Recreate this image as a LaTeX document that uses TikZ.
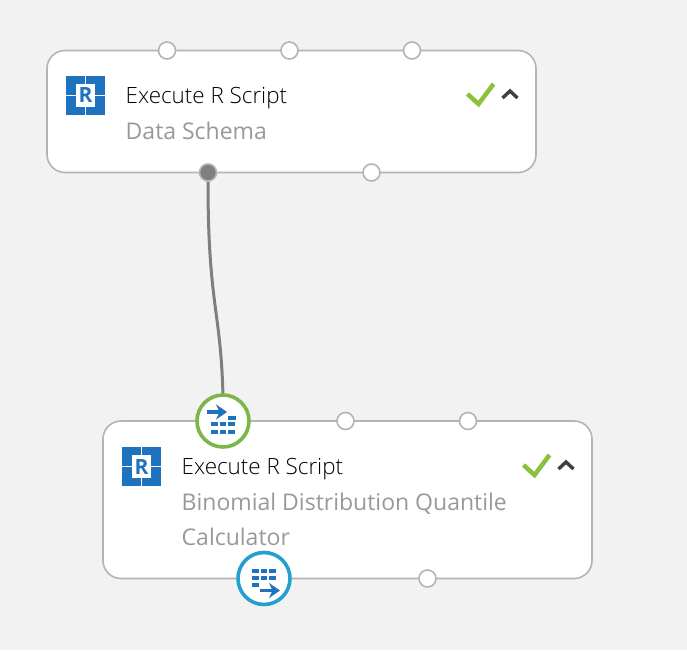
\documentclass[tikz,border=0pt]{standalone}
\usepackage{fontspec}
\setmainfont{Open Sans}
\newfontfamily\titlefont[UprightFont=* Light]{Open Sans}
\usepackage{tikz}
\usetikzlibrary{positioning}
\usetikzlibrary{arrows.meta}

\definecolor{canvasgray}{HTML}{F2F2F2}
\definecolor{moduleline}{HTML}{B4B4B4}
\definecolor{subtitlegray}{HTML}{999999}
\definecolor{iconblue}{HTML}{1F73BE}
\definecolor{tickgreen}{HTML}{8AC23C}
\definecolor{portgreen}{HTML}{7AB648}
\definecolor{portblue}{HTML}{259ED0}
\definecolor{linkgray}{HTML}{7F7F7F}

\tikzset{
    modulebox/.style={draw=moduleline, line width=1.6pt, fill=white, rounded corners=18pt},
    titletext/.style={font=\titlefont\fontsize{22.4}{35}\selectfont, text=black, inner sep=0pt, anchor=base west},
    subtitletext/.style={font=\fontsize{23}{35}\selectfont, text=subtitlegray, inner sep=0pt, anchor=north west, align=left},
    freeport/.style={circle, draw=moduleline, line width=1.6pt, fill=white, minimum size=17pt, inner sep=0pt},
    usedport/.style={circle, draw=moduleline, line width=1.6pt, fill=linkgray, minimum size=17pt, inner sep=0pt},
    inport/.style={circle, draw=portgreen, line width=3.6pt, fill=white, minimum size=52pt, inner sep=0pt},
    outport/.style={circle, draw=portblue, line width=3.6pt, fill=white, minimum size=52pt, inner sep=0pt},
    link/.style={draw=linkgray, line width=3pt},
    rscript/.pic={
        \fill[iconblue] (0,0) rectangle (39,39);
        \draw[white, line width=1.3pt] (19.5,0) -- (19.5,39) (0,19.5) -- (39,19.5);
        \fill[white] (10,8) rectangle (29,31);
        \node[font=\bfseries\fontsize{21}{21}\selectfont, text=iconblue, inner sep=0pt] at (19.5,19.5) {R};
    },
    statusmarks/.pic={
        \draw[tickgreen, line width=4.5pt] (0,10) -- (11,20) -- (26,0);
        \draw[black!75, line width=3.4pt] (35,14) -- (42.5,7) -- (50,14);
    },
    tablein/.pic={
        \draw[iconblue, line width=3.4pt, -{Stealth[length=11pt,width=15pt]}] (-16,-9) -- (4,-9);
        \fill[iconblue] (5,-5) rectangle (13,-1);
        \foreach \rowy in {1,8.5} {
            \foreach \colx in {-12,-3.5,5} {
                \fill[iconblue] (\colx,\rowy) rectangle ++(6.8,4);
            }
        }
    },
    tableout/.pic={
        \foreach \rowy in {-9.5,-3} {
            \foreach \colx in {-12,-3.5,5} {
                \fill[iconblue] (\colx,\rowy) rectangle ++(6.8,4);
            }
        }
        \fill[iconblue] (-12,4) rectangle (-5.2,8);
        \draw[iconblue, line width=3.4pt, -{Stealth[length=11pt,width=15pt]}] (-4,12) -- (16,12);
    }
}

\begin{document}
\begin{tikzpicture}[x=1pt,y=-1pt]
    \fill[canvasgray] (0,0) rectangle (687,650);

    % upper module
    \draw[modulebox] (47,50.5) rectangle (536,172.5);
    \pic at (66,76) {rscript};
    \node[titletext] (schematitle) at (125.5,103.5) {Execute R Script};
    \node[subtitletext] (schemasub) at (125.5,121.5) {Data Schema};
    \pic at (467.5,84) {statusmarks};
    \node[freeport] (schemaa) at (167,50.5) {};
    \node[freeport] (schemab) at (289.5,50.5) {};
    \node[freeport] (schemac) at (412,50.5) {};
    \node[usedport] (schemaout) at (208,172.5) {};
    \node[freeport] (schemaright) at (371.5,172.5) {};

    % lower module
    \draw[modulebox] (103,421) rectangle (592,578.5);
    \pic at (122,447) {rscript};
    \node[titletext] (calctitle) at (181.5,474.5) {Execute R Script};
    \node[subtitletext] (calcsub) at (181.5,492.5) {Binomial Distribution Quantile\\Calculator};
    \pic at (523.5,455) {statusmarks};
    \node[freeport] (calcb) at (345.5,421) {};
    \node[freeport] (calcc) at (468,421) {};
    \node[freeport] (calcright) at (427.5,578.5) {};

    \draw[link] (schemaout) .. controls (208,305) and (221,310) .. (223,397) coordinate (linkend);
    \node[inport] (calcin) at (223,421) {};
    \pic at (calcin) {tablein};
    \node[outport] (calcout) at (264,578.5) {};
    \pic at (calcout) {tableout};
\end{tikzpicture}
\end{document}
